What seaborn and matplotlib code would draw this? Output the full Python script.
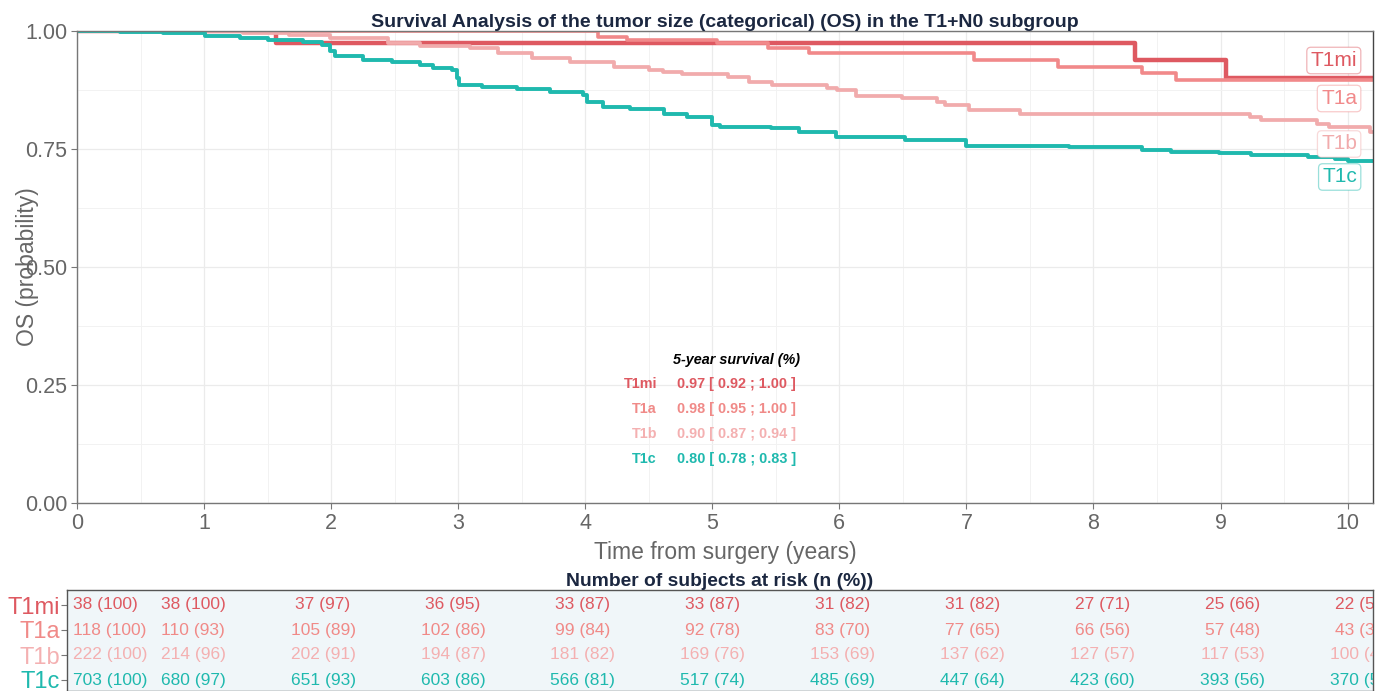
import numpy as np
import pandas as pd
import matplotlib
matplotlib.use("Agg")
import matplotlib.pyplot as plt
import seaborn as sns
from matplotlib.colors import to_rgba
from matplotlib.ticker import MultipleLocator, FixedLocator

# ---------------- data ----------------
groups = ["T1mi", "T1a", "T1b", "T1c"]
line_colors = ["#DE5961", "#F1898A", "#F1ABAC", "#1FB9AE"]
text_colors = ["#DE5961", "#F08A88", "#F4B0B1", "#1FB9AE"]

t1mi_time = [0, 1.57, 8.33, 9.04, 10.25]
t1mi_surv = [1.0, 0.974, 0.938, 0.900, 0.900]

t1a_time = [0, 4.10, 4.33, 5.04, 5.44, 5.76, 7.06, 7.72, 8.38, 8.65, 10.25]
t1a_surv = [1.0, 0.988, 0.980, 0.975, 0.965, 0.953, 0.939, 0.924, 0.911, 0.896, 0.896]

t1b_time = [0, 1.31, 1.67, 1.99, 2.45, 2.70, 3.09, 3.31, 3.58, 3.88, 4.23, 4.50, 4.61,
            4.76, 5.12, 5.29, 5.47, 5.90, 5.98, 6.13, 6.49, 6.77, 6.83, 7.02, 7.42,
            9.23, 9.32, 9.76, 9.85, 10.18, 10.25]
t1b_surv = [1.0, 0.996, 0.991, 0.985, 0.974, 0.968, 0.963, 0.953, 0.943, 0.934, 0.924,
            0.917, 0.914, 0.908, 0.902, 0.893, 0.886, 0.879, 0.874, 0.862, 0.857, 0.850,
            0.843, 0.832, 0.824, 0.818, 0.811, 0.803, 0.796, 0.786, 0.786]

t1c_time = [0, 0.34, 0.68, 1.01, 1.28, 1.50, 1.78, 1.93, 1.99, 2.03, 2.25, 2.48, 2.70,
            2.80, 2.95, 2.99, 3.01, 3.19, 3.46, 3.72, 3.98, 4.01, 4.14, 4.35, 4.62, 4.80,
            5.00, 5.06, 5.46, 5.68, 5.97, 6.52, 7.00, 7.81, 8.38, 8.61, 8.99, 9.24, 9.69,
            9.90, 10.00, 10.25]
t1c_surv = [1.0, 0.998, 0.996, 0.990, 0.986, 0.981, 0.976, 0.970, 0.957, 0.946, 0.939,
            0.934, 0.928, 0.921, 0.917, 0.900, 0.886, 0.882, 0.877, 0.871, 0.864, 0.850,
            0.840, 0.834, 0.825, 0.818, 0.801, 0.797, 0.794, 0.785, 0.776, 0.769, 0.756,
            0.755, 0.748, 0.744, 0.741, 0.737, 0.734, 0.728, 0.725, 0.725]

five_year = [0.97, 0.98, 0.90, 0.80]
five_low = [0.92, 0.95, 0.87, 0.78]
five_high = [1.00, 1.00, 0.94, 0.83]

risk_times = [0, 1, 2, 3, 4, 5, 6, 7, 8, 9, 10]
t1mi_n = [38, 38, 37, 36, 33, 33, 31, 31, 27, 25, 22]
t1mi_pct = [100, 100, 97, 95, 87, 87, 82, 82, 71, 66, 58]
t1a_n = [118, 110, 105, 102, 99, 92, 83, 77, 66, 57, 43]
t1a_pct = [100, 93, 89, 86, 84, 78, 70, 65, 56, 48, 36]
t1b_n = [222, 214, 202, 194, 181, 169, 153, 137, 127, 117, 100]
t1b_pct = [100, 96, 91, 87, 82, 76, 69, 62, 57, 53, 45]
t1c_n = [703, 680, 651, 603, 566, 517, 485, 447, 423, 393, 370]
t1c_pct = [100, 97, 93, 86, 81, 74, 69, 64, 60, 56, 53]

title = "Survival Analysis of the tumor size (categorical) (OS) in the T1+N0 subgroup"
xlabel = "Time from surgery (years)"
ylabel = "OS (probability)"
table_title = "Number of subjects at risk (n (%))"
legend_title = "5-year survival (%)"

# ---------------- build frames ----------------
curves = pd.concat([
    pd.DataFrame({"time": t1mi_time, "surv": t1mi_surv, "group": "T1mi"}),
    pd.DataFrame({"time": t1a_time, "surv": t1a_surv, "group": "T1a"}),
    pd.DataFrame({"time": t1b_time, "surv": t1b_surv, "group": "T1b"}),
    pd.DataFrame({"time": t1c_time, "surv": t1c_surv, "group": "T1c"}),
], ignore_index=True)

risk_n = [t1mi_n, t1a_n, t1b_n, t1c_n]
risk_pct = [t1mi_pct, t1a_pct, t1b_pct, t1c_pct]

# ---------------- style ----------------
sns.set_theme(style="white")
plt.rcParams["font.family"] = ["Liberation Sans", "DejaVu Sans"]
GRAY = "#666666"
NAVY = "#1B2740"

fig = plt.figure(figsize=(13.75, 6.91), dpi=100)
ax = fig.add_axes([77 / 1375, 1 - 503 / 691, (1373 - 77) / 1375, (503 - 31) / 691])
axt = fig.add_axes([67 / 1375, 0.0, (1373 - 67) / 1375, 101 / 691])

# ---------------- main KM plot ----------------
widths = [3.2, 2.6, 2.7, 2.8]
for g, c, w in zip(groups, line_colors, widths):
    sns.lineplot(data=curves[curves.group == g], x="time", y="surv", ax=ax,
                 color=c, linewidth=w, drawstyle="steps-post", estimator=None,
                 sort=True, legend=False, zorder=2)

ax.set_xlim(0, 10.2)
ax.set_ylim(0, 1.0)
ax.xaxis.set_major_locator(MultipleLocator(1))
ax.xaxis.set_minor_locator(MultipleLocator(0.5))
ax.yaxis.set_major_locator(FixedLocator([0, 0.25, 0.5, 0.75, 1.0]))
ax.yaxis.set_minor_locator(MultipleLocator(0.125))
ax.set_yticklabels(["0.00", "0.25", "0.50", "0.75", "1.00"])
ax.grid(which="major", color="#EBEBEB", linewidth=0.9)
ax.grid(which="minor", color="#F2F2F2", linewidth=0.7)
ax.set_axisbelow(True)
for s in ax.spines.values():
    s.set_color("#777777")
    s.set_linewidth(1.0)
ax.spines["right"].set_color("#444444")
ax.tick_params(axis="both", which="major", length=4, width=0.8, color="#777777",
               labelsize=15.5, labelcolor=GRAY, pad=3, bottom=True, left=True)
ax.tick_params(axis="both", which="minor", length=0)
ax.set_xlabel(xlabel, fontsize=16.5, color=GRAY, labelpad=5)
ax.set_ylabel(ylabel, fontsize=16.5, color=GRAY)
ax.yaxis.set_label_coords(-0.029, 0.5)
ax.set_title(title, fontsize=14, fontweight="bold", color=NAVY, pad=3)

# end labels
label_y = [0.9375, 0.857, 0.7606, 0.6907]
for g, c, ly in zip(groups, line_colors, label_y):
    ax.text(0.9877, ly, g, transform=ax.transAxes, ha="right", va="center",
            fontsize=15, color=c,
            bbox=dict(boxstyle="round,pad=0.18,rounding_size=0.2", fc="white",
                      ec=to_rgba(c, 0.45), lw=0.9))

# 5-year survival text block
ax.text(0.509, 0.303, legend_title, transform=ax.transAxes, ha="center", va="center",
        fontsize=10.4, fontweight="bold", fontstyle="italic", color="black")
row_y = [0.252, 0.199, 0.146, 0.093]
for g, c, ry, v, lo, hi in zip(groups, text_colors, row_y, five_year, five_low, five_high):
    ax.text(0.4475, ry, g, transform=ax.transAxes, ha="right", va="center",
            fontsize=10.4, fontweight="bold", color=c)
    ax.text(0.463, ry, f"{v:.2f} [ {lo:.2f} ; {hi:.2f} ]", transform=ax.transAxes,
            ha="left", va="center", fontsize=10.4, fontweight="bold", color=c)

# ---------------- risk table ----------------
axt.set_facecolor("#F0F6F9")
axt.set_xlim(0.03, 10.08)
axt.set_ylim(-0.44, 3.6)
row_pos = [3, 2, 1, 0]
for gi, (g, c) in enumerate(zip(groups, text_colors)):
    for ti, t in enumerate(risk_times):
        txt = f"{risk_n[gi][ti]} ({risk_pct[gi][ti]})"
        if ti == 0:
            axt.text(t + 0.08, row_pos[gi], txt, ha="left", va="center", fontsize=12.5,
                     color=c, clip_on=True)
        else:
            axt.text(t, row_pos[gi], txt, ha="center", va="center", fontsize=12.5,
                     color=c, clip_on=True)
axt.set_yticks(row_pos)
axt.set_yticklabels(groups)
for lab, c in zip(axt.get_yticklabels(), text_colors):
    lab.set_color(c)
axt.tick_params(axis="y", length=4, width=0.8, color="#777777", labelsize=17, pad=1,
                left=True)
axt.set_xticks([])
for s in axt.spines.values():
    s.set_color("#555555")
    s.set_linewidth(1.0)
axt.set_title(table_title, fontsize=13.9, fontweight="bold", color=NAVY, pad=1)

fig.savefig("out.png", dpi=100)
